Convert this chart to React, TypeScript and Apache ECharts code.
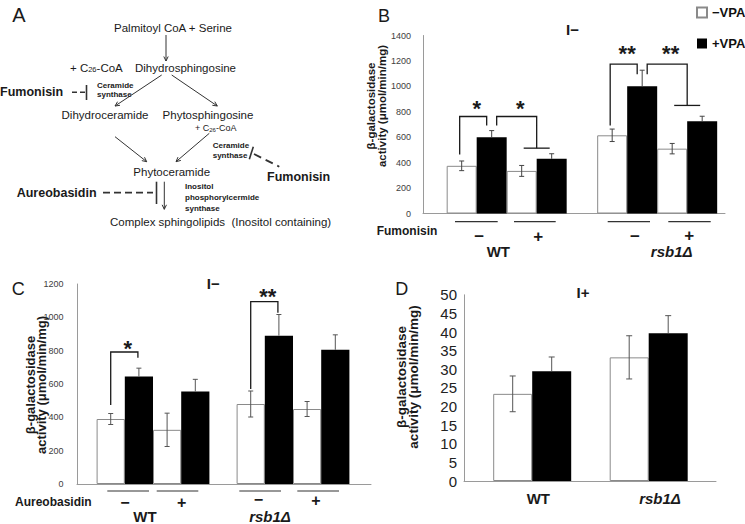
import React, { useEffect, useRef } from 'react';
import * as echarts from 'echarts';

const FONT = '"Liberation Sans", Arial, Helvetica, sans-serif';

// ---------------- data ----------------
const strains = ['WT', 'rsb1Δ'];
const treatmentSigns = ['−', '+'];
const vpaLegend = ['−VPA', '+VPA'];

// Panel B: fumonisin, I−  (values per strain: [WT, rsb1Δ])
const bNoFumNoVpa = [375, 615];
const bNoFumVpa = [600, 1000];
const bFumNoVpa = [335, 510];
const bFumVpa = [430, 725];
const bErrNoFumNoVpa = [38, 49];
const bErrNoFumVpa = [52, 127];
const bErrFumNoVpa = [43, 41];
const bErrFumVpa = [40, 40];
const bYTicks = [0, 200, 400, 600, 800, 1000, 1200, 1400];
// [strain, fromBar, toBar, top, leftFoot, rightFoot, tee, starLevel]
const bBrackets = [
  [0, 0, 1, 763, 464, 692, 0, 868],
  [0, 1, 2.5, 763, 692, 514, 1, 868],
  [1, 0, 1, 1175, 692, 1096, 0, 1300],
  [1, 1, 2.5, 1175, 1096, 850, 1, 1300],
];
const bStars = ['*', '*', '**', '**'];

// Panel C: aureobasidin, I−
const cNoAurNoVpa = [390, 480];
const cNoAurVpa = [645, 890];
const cAurNoVpa = [325, 450];
const cAurVpa = [555, 805];
const cErrNoAurNoVpa = [33, 78];
const cErrNoAurVpa = [50, 127];
const cErrAurNoVpa = [100, 45];
const cErrAurVpa = [73, 90];
const cYTicks = [0, 200, 400, 600, 800, 1000, 1200];
const cBrackets = [
  [0, 0, 1, 792, 474, 758, 0, 843],
  [1, 0, 1, 1094, 570, 1028, 0, 1158],
];
const cStars = ['*', '**'];

// Panel D: I+
const dNoVpa = [23.4, 33.2];
const dVpa = [29.5, 39.7];
const dErrNoVpa = [4.8, 5.8];
const dErrVpa = [3.8, 4.7];
const dYTicks = [0, 5, 10, 15, 20, 25, 30, 35, 40, 45, 50];

// ---------------- helpers ----------------
const INK = '#1a1a1a';
const AXIS = '#9a9a9a';

function txt(text: string, x: number, y: number, size: number, o: any = {}) {
  return {
    type: 'text',
    x,
    y,
    rotation: o.rotation || 0,
    silent: true,
    style: {
      text,
      fontSize: size,
      fontFamily: FONT,
      fontWeight: o.bold ? 'bold' : 'normal',
      fontStyle: o.italic ? 'italic' : 'normal',
      fill: o.color || INK,
      align: o.align || 'center',
      textAlign: o.align || 'center',
      verticalAlign: 'middle',
      textVerticalAlign: 'middle',
      lineHeight: o.lineHeight,
      rich: o.rich,
    },
  };
}

function seg(x1: number, y1: number, x2: number, y2: number, w = 1, dash?: number[], color = '#333') {
  return {
    type: 'line',
    silent: true,
    shape: { x1, y1, x2, y2 },
    style: { stroke: color, lineWidth: w, lineDash: dash },
  };
}

function arrow(x1: number, y1: number, x2: number, y2: number, head = 5) {
  const ang = Math.atan2(y2 - y1, x2 - x1);
  const a1 = ang + Math.PI - 0.45;
  const a2 = ang + Math.PI + 0.45;
  return [
    seg(x1, y1, x2, y2, 1),
    {
      type: 'polyline',
      silent: true,
      shape: {
        points: [
          [x2 + head * Math.cos(a1), y2 + head * Math.sin(a1)],
          [x2, y2],
          [x2 + head * Math.cos(a2), y2 + head * Math.sin(a2)],
        ],
      },
      style: { stroke: '#333', lineWidth: 1, fill: 'none' },
    },
  ];
}

const whiteStyle = { color: '#ffffff', borderColor: '#8a8a8a', borderWidth: 1 };
const blackStyle = { color: '#000000', borderColor: '#000000', borderWidth: 0 };

function barSeries(name: string, axis: number, values: number[], barW: number, white: boolean) {
  return {
    type: 'bar',
    name,
    xAxisIndex: axis,
    yAxisIndex: axis,
    data: values.map((v, i) => [i, v]),
    barWidth: barW,
    barGap: '0%',
    silent: true,
    itemStyle: white ? whiteStyle : blackStyle,
  };
}

function errorBars(axis: number, groups: number[][], errs: number[][], barW: number, capHalf: number, color: string) {
  const n = groups.length;
  const data: number[][] = [];
  groups.forEach((g, j) => g.forEach((m, i) => data.push([i, m, errs[j][i], j])));
  return {
    type: 'custom',
    xAxisIndex: axis,
    yAxisIndex: axis,
    z: 5,
    silent: true,
    data,
    renderItem: (_p: any, api: any) => {
      const i = api.value(0);
      const m = api.value(1);
      const e = api.value(2);
      const j = api.value(3);
      const mid = api.coord([i, m]);
      const hi = api.coord([i, m + e]);
      const lo = api.coord([i, m - e]);
      const x = mid[0] + (j - (n - 1) / 2) * barW;
      const black = j % 2 === 1;
      const st = { stroke: color, lineWidth: 1 };
      const children: any[] = [
        { type: 'line', shape: { x1: x, y1: black ? mid[1] : lo[1], x2: x, y2: hi[1] }, style: st },
        { type: 'line', shape: { x1: x - capHalf, y1: hi[1], x2: x + capHalf, y2: hi[1] }, style: st },
      ];
      if (!black) {
        children.push({ type: 'line', shape: { x1: x - capHalf, y1: lo[1], x2: x + capHalf, y2: lo[1] }, style: st });
      }
      return { type: 'group', children };
    },
  };
}

function bracketSeries(
  axis: number,
  rows: number[][],
  stars: string[],
  nBars: number,
  barW: number,
  inset: number,
  leftShift: number,
  teeHalf: number,
  starSize: number
) {
  return {
    type: 'custom',
    xAxisIndex: axis,
    yAxisIndex: axis,
    z: 6,
    silent: true,
    data: rows,
    renderItem: (params: any, api: any) => {
      const s = api.value(0);
      const from = api.value(1);
      const to = api.value(2);
      const top = api.coord([s, api.value(3)]);
      const yl = api.coord([s, api.value(4)])[1];
      const yr = api.coord([s, api.value(5)])[1];
      const tee = api.value(6);
      const ys = api.coord([s, api.value(7)])[1];
      const c = (k: number) => top[0] + (k - (nBars - 1) / 2) * barW;
      const xl = c(from) + (from === 0 ? leftShift : inset);
      const xr = c(to) - (tee ? 0 : inset);
      const st = { stroke: INK, lineWidth: 1.3, fill: 'none' };
      const children: any[] = [
        {
          type: 'polyline',
          shape: { points: [[xl, yl], [xl, top[1]], [xr, top[1]], [xr, yr]] },
          style: st,
        },
      ];
      if (tee) {
        children.push({ type: 'line', shape: { x1: xr - teeHalf, y1: yr, x2: xr + teeHalf, y2: yr }, style: st });
      }
      children.push({
        type: 'text',
        x: (xl + xr) / 2 + 3.5,
        y: ys + 5,
        style: {
          text: stars[params.dataIndex],
          fontSize: starSize,
          fontWeight: 'bold',
          fontFamily: FONT,
          fill: INK,
          align: 'center',
          textAlign: 'center',
          verticalAlign: 'middle',
          textVerticalAlign: 'middle',
        },
      });
      return { type: 'group', children };
    },
  };
}

function yAxisFor(grid: number, ticks: number[], size: number, margin: number, color: string, lift: number) {
  return {
    gridIndex: grid,
    type: 'value',
    min: ticks[0],
    max: ticks[ticks.length - 1],
    interval: ticks[1] - ticks[0],
    axisLine: { show: true, onZero: false, lineStyle: { color: AXIS, width: 1 } },
    axisTick: { show: false },
    splitLine: { show: false },
    axisLabel: {
      fontSize: size,
      fontFamily: FONT,
      color,
      margin,
      padding: [0, 0, lift, 0],
      formatter: (v: number) => String(v),
    },
  };
}

function xAxisFor(grid: number, min: number, max: number) {
  return {
    gridIndex: grid,
    type: 'value',
    min,
    max,
    axisLine: { show: true, onZero: false, lineStyle: { color: AXIS, width: 1 } },
    axisTick: { show: false },
    axisLabel: { show: false },
    splitLine: { show: false },
  };
}

// ---------------- panel A + annotations ----------------
function buildGraphics() {
  const g: any[] = [];
  // Panel A
  g.push(txt('A', 19, 15, 20));
  g.push(txt('Palmitoyl CoA + Serine', 173, 27.5, 11.5));
  g.push(...arrow(166, 35, 166, 61));
  const subRich = { s: { fontSize: 7.5, fontFamily: FONT, fill: INK, verticalAlign: 'bottom', lineHeight: 7 } };
  g.push(txt('+ C{s|26}-CoA', 70, 67.7, 11.5, { align: 'left', rich: subRich }));
  g.push(txt('Dihydrosphingosine', 135, 67.7, 11.5, { align: 'left' }));
  g.push(...arrow(161.7, 75, 115, 106));
  g.push(...arrow(171.7, 75, 217.3, 106));
  g.push(txt('Fumonisin', 0, 92.3, 12.5, { align: 'left', bold: true }));
  g.push(seg(72, 92.3, 85, 92.3, 1.6, [5, 3]));
  g.push(seg(86.5, 85, 86.5, 100, 1.6));
  g.push(txt('Ceramide', 97, 85.5, 8, { align: 'left', bold: true }));
  g.push(txt('synthase', 97, 94.8, 8, { align: 'left', bold: true }));
  g.push(txt('Dihydroceramide', 105, 115, 11.5));
  g.push(txt('Phytosphingosine', 208, 115, 11.5));
  const subRich2 = { s: { fontSize: 6, fontFamily: FONT, fill: INK, verticalAlign: 'bottom', lineHeight: 6 } };
  g.push(txt('+ C{s|26}-CoA', 195, 128.3, 9, { align: 'left', rich: subRich2 }));
  g.push(...arrow(115, 136.7, 146.7, 161.7));
  g.push(...arrow(209.3, 133.3, 176, 161.7));
  g.push(txt('Ceramide', 212.7, 145.2, 8, { align: 'left', bold: true }));
  g.push(txt('synthase', 212.7, 155.7, 8, { align: 'left', bold: true }));
  g.push(seg(249.3, 159.3, 253.3, 146.7, 1.6));
  g.push(seg(254, 154, 279.3, 166.7, 1.8, [8, 5]));
  g.push(txt('Fumonisin', 267, 176.7, 12.5, { align: 'left', bold: true }));
  g.push(txt('Phytoceramide', 171.7, 171.7, 11.5));
  g.push(txt('Aureobasidin', 16.7, 192.7, 12.5, { align: 'left', bold: true }));
  g.push(seg(103, 192.7, 153, 192.7, 1.8, [7, 4]));
  g.push(seg(156.5, 181.7, 156.5, 204, 1.6));
  g.push(...arrow(164.3, 181.7, 164.3, 209.3));
  g.push(txt('Inositol', 185, 186.2, 8, { align: 'left', bold: true }));
  g.push(txt('phosphorylcermide', 185, 197.5, 8, { align: 'left', bold: true }));
  g.push(txt('synthase', 185, 208.8, 8, { align: 'left', bold: true }));
  g.push(txt('Complex sphingolipids  (Inositol containing)', 110, 221.7, 11.5, { align: 'left' }));

  // Panel letters & titles
  g.push(txt('B', 384, 16, 18));
  g.push(txt('C', 18.3, 288.5, 18));
  g.push(txt('D', 401.7, 288.5, 18));
  g.push(txt('I−', 572.5, 29.5, 15, { bold: true }));
  g.push(txt('I−', 213.3, 283.3, 15, { bold: true }));
  g.push(txt('I+', 583, 292.5, 15, { bold: true }));

  // y-axis names
  const yName = 'β-galactosidase\nactivity (μmol/min/mg)';
  g.push(txt(yName, 376.7, 106, 11.5, { bold: true, rotation: Math.PI / 2, lineHeight: 10.5 }));
  g.push(txt(yName, 36.3, 385, 13, { bold: true, rotation: Math.PI / 2, lineHeight: 11 }));
  g.push(txt(yName, 407.5, 377, 13.5, { bold: true, rotation: Math.PI / 2, lineHeight: 12 }));

  // Panel B x annotations
  g.push(txt('Fumonisin', 376.7, 231, 12, { align: 'left', bold: true }));
  [[455, 497.7], [514, 555.7], [607.7, 650], [668.3, 710.7]].forEach(([a, b]) => g.push(seg(a, 221.7, b, 221.7, 1.2)));
  [[479.3, 236, 0], [538.3, 236, 1], [635, 236, 0], [689.3, 235, 1]].forEach(([x, y, k]) =>
    g.push(txt(treatmentSigns[k], x, y, 17, { bold: true, lineHeight: 14 }))
  );
  g.push(txt(strains[0], 498.3, 251, 15, { bold: true, lineHeight: 15 }));
  g.push(txt(strains[1], 671.7, 251, 15, { bold: true, italic: true, lineHeight: 15 }));

  // Panel C x annotations
  g.push(txt('Aureobasidin', 15, 502.3, 12, { align: 'left', bold: true }));
  [[107.3, 149], [156.7, 198.3], [239.3, 281], [297.3, 339]].forEach(([a, b]) => g.push(seg(a, 491, b, 491, 1.2)));
  [[125, 502.5, 0], [181.7, 502, 1], [258.3, 499.5, 0], [316, 500.5, 1]].forEach(([x, y, k]) =>
    g.push(txt(treatmentSigns[k], x, y, 16, { bold: true, lineHeight: 12 }))
  );
  g.push(txt(strains[0], 145, 516, 15, { bold: true, lineHeight: 14 }));
  g.push(txt(strains[1], 270, 516, 15, { bold: true, italic: true, lineHeight: 14 }));

  // Panel D x labels
  g.push(txt(strains[0], 538.3, 498.3, 15, { bold: true }));
  g.push(txt(strains[1], 660, 498.3, 15, { bold: true, italic: true }));
  return g;
}

export default function App() {
  const ref = useRef<HTMLDivElement>(null);
  useEffect(() => {
    if (!ref.current) return;
    const chart = echarts.init(ref.current, undefined, { renderer: 'svg' });
    const bW = 30;
    const cW = 28.2;
    const dW = 39;
    const option: any = {
      animation: false,
      backgroundColor: '#ffffff',
      textStyle: { fontFamily: FONT },
      legend: {
        data: vpaLegend,
        orient: 'vertical',
        left: 691,
        top: 1,
        itemWidth: 10,
        itemHeight: 10,
        itemGap: 18,
        icon: 'rect',
        selectedMode: false,
        textStyle: { fontSize: 13, fontWeight: 'bold', color: '#111', fontFamily: FONT },
      },
      grid: [
        { left: 423, top: 35.5, width: 302, height: 178 },
        { left: 77, top: 284, width: 294, height: 200 },
        { left: 464, top: 294.8, width: 252, height: 186.2 },
      ],
      xAxis: [xAxisFor(0, -0.556, 1.4506), xAxisFor(1, -0.5429, 1.5571), xAxisFor(2, -0.5854, 1.5777)],
      yAxis: [
        yAxisFor(0, bYTicks, 9, 12, '#404040', 4),
        yAxisFor(1, cYTicks, 9, 13.5, '#404040', 3),
        yAxisFor(2, dYTicks, 15, 7, '#222', 0),
      ],
      graphic: buildGraphics(),
      series: [
        barSeries(vpaLegend[0], 0, bNoFumNoVpa, bW, true),
        barSeries(vpaLegend[1], 0, bNoFumVpa, bW, false),
        barSeries(vpaLegend[0], 0, bFumNoVpa, bW, true),
        barSeries(vpaLegend[1], 0, bFumVpa, bW, false),
        errorBars(0, [bNoFumNoVpa, bNoFumVpa, bFumNoVpa, bFumVpa], [bErrNoFumNoVpa, bErrNoFumVpa, bErrFumNoVpa, bErrFumVpa], bW, 2.5, '#444'),
        bracketSeries(0, bBrackets, bStars, 4, bW, 5, -2, 13, 22),

        barSeries(vpaLegend[0], 1, cNoAurNoVpa, cW, true),
        barSeries(vpaLegend[1], 1, cNoAurVpa, cW, false),
        barSeries(vpaLegend[0], 1, cAurNoVpa, cW, true),
        barSeries(vpaLegend[1], 1, cAurVpa, cW, false),
        errorBars(1, [cNoAurNoVpa, cNoAurVpa, cAurNoVpa, cAurVpa], [cErrNoAurNoVpa, cErrNoAurVpa, cErrAurNoVpa, cErrAurVpa], cW, 2.5, '#555'),
        bracketSeries(1, cBrackets, cStars, 4, cW, 1, 0, 0, 22),

        barSeries(vpaLegend[0], 2, dNoVpa, dW, true),
        barSeries(vpaLegend[1], 2, dVpa, dW, false),
        errorBars(2, [dNoVpa, dVpa], [dErrNoVpa, dErrVpa], dW, 3, '#555'),
      ],
    };
    chart.setOption(option);
    return () => chart.dispose();
  }, []);
  return (
    <div
      ref={ref}
      style={{ position: 'absolute', left: 0, top: 0, width: 745, height: 524, background: '#fff' }}
    />
  );
}
